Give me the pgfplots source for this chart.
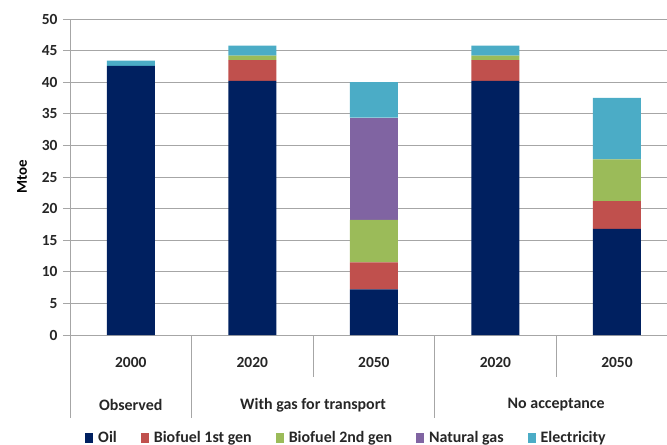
\documentclass[border=0pt]{standalone}
\usepackage{fontspec}
\setmainfont{Carlito}[BoldFont={Carlito Bold}]
\usepackage{pgfplots}
\pgfplotsset{compat=1.18}
\usepackage{pgfplotstable}

\definecolor{oil}{HTML}{002060}
\definecolor{bioone}{HTML}{C0504D}
\definecolor{biotwo}{HTML}{9BBB59}
\definecolor{natgas}{HTML}{8064A2}
\definecolor{elec}{HTML}{4BACC6}
\definecolor{gridgray}{HTML}{A6A6A6}

\newcommand\lf{\bfseries\fontsize{16}{19}\selectfont}

% x: 0 = 2000 observed, 1-2 = with gas for transport, 3-4 = no acceptance
\pgfplotstableread{
x  oil   bioone biotwo natgas elec
0  42.6  0      0      0      0.8
1  40.2  3.3    0.7    0      1.6
2  7.2   4.3    6.7    16.2   5.6
3  40.2  3.3    0.7    0      1.6
4  16.8  4.4    6.6    0      9.7
}\mtoe

\tikzset{grouplab/.style={font=\lf, text=black!85}}

\begin{document}
\begin{tikzpicture}
\path[use as bounding box] (-70bp,-110bp) rectangle (597bp,335bp);
\begin{axis}[
  at={(0,0)}, anchor=south west,
  scale only axis,
  width=598bp, height=316bp,
  ybar stacked,
  bar width=48bp,
  xmin=-0.5, xmax=4.42,
  ymin=0, ymax=50,
  ytick={0,5,...,50},
  xtick={0,1,2,3,4},
  xticklabels={2000,2020,2050,2020,2050},
  /pgf/number format/assume math mode=true,
  tick label style={font=\bfseries\fontsize{15.5}{18}\selectfont, text=black!85},
  xticklabel style={yshift=-12bp},
  yticklabel style={xshift=-2bp},
  ylabel={Mtoe},
  ylabel style={font=\bfseries\fontsize{15}{18}\selectfont, at={(axis description cs:-0.08,0.5)}, anchor=center},
  ymajorgrids,
  grid style={gridgray, line width=0.9pt},
  axis line style={gridgray, line width=0.9pt},
  axis x line*=bottom,
  axis y line*=left,
  x axis line style={-},
  y axis line style={-},
  major x tick style={draw=none},
  major y tick style={gridgray, line width=0.9pt},
  tick align=outside,
  major tick length=7bp,
  clip=false,
  legend columns=5,
  legend style={draw=none, fill=none, at={(axis description cs:0.4607,-0.325)}, anchor=center,
    font=\lf, text=black!85, nodes={inner xsep=0pt},
    /tikz/every odd column/.append style={column sep=5bp},
    /tikz/every even column/.append style={column sep=24bp}},
  legend image code/.code={\fill[#1] (0bp,-5bp) rectangle (8bp,5bp);},
]
\addplot[fill=oil, draw=none] table[x=x, y=oil] {\mtoe};
\addplot[fill=bioone, draw=none] table[x=x, y=bioone] {\mtoe};
\addplot[fill=biotwo, draw=none] table[x=x, y=biotwo] {\mtoe};
\addplot[fill=natgas, draw=none] table[x=x, y=natgas] {\mtoe};
\addplot[fill=elec, draw=none] table[x=x, y=elec] {\mtoe};
\legend{{\lf Oil}, {\lf Biofuel 1st gen}, {\lf Biofuel 2nd gen}, {\lf Natural gas}, {\lf Electricity}}

% category separators below the axis
\draw[gridgray, line width=0.9pt] (axis cs:-0.5,0) -- ([yshift=-83bp]axis cs:-0.5,0);
\draw[gridgray, line width=0.9pt] (axis cs:0.5,0) -- ([yshift=-83bp]axis cs:0.5,0);
\draw[gridgray, line width=0.9pt] (axis cs:2.5,0) -- ([yshift=-83bp]axis cs:2.5,0);
\draw[gridgray, line width=0.9pt] (axis cs:1.5,0) -- ([yshift=-42bp]axis cs:1.5,0);
\draw[gridgray, line width=0.9pt] (axis cs:3.5,0) -- ([yshift=-42bp]axis cs:3.5,0);

% group labels
\node[grouplab] at ([yshift=-70bp]axis cs:0,0) {Observed};
\node[grouplab] at ([yshift=-70bp]axis cs:1.5,0) {With gas for transport};
\node[grouplab] at ([yshift=-70bp]axis cs:3.5,0) {No acceptance};
\end{axis}
\end{tikzpicture}
\end{document}
